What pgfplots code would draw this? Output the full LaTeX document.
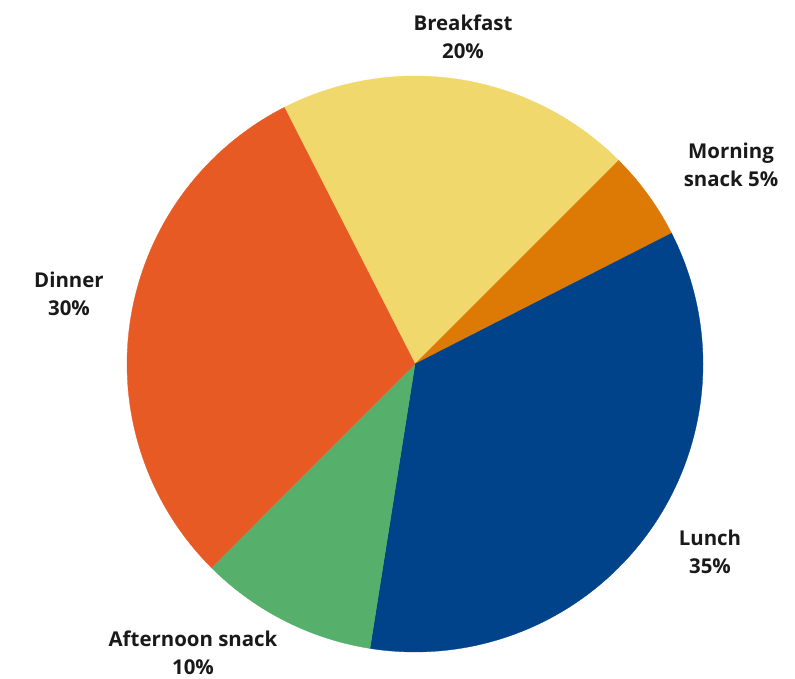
\documentclass[border=0pt]{standalone}
\usepackage{pgfplots}
\pgfplotsset{compat=1.18}
\usepackage{fontspec}
\setmainfont{Open Sans}

\definecolor{cBreakfast}{HTML}{F0D86C}
\definecolor{cMorning}{HTML}{DD7A05}
\definecolor{cLunch}{HTML}{00438A}
\definecolor{cAfternoon}{HTML}{57AF6C}
\definecolor{cDinner}{HTML}{E75A24}

\tikzset{lbl/.style={font=\fontsize{20.5}{28}\selectfont\bfseries, align=center, text=black!90}}

% one wedge: colour, share before it (%), its share (%); starts at 117 deg, clockwise
\newcommand\slice[3]{%
  \addplot[draw=#1, line width=0.3pt, fill=#1, samples=90, variable=\t,
    domain={117-3.6*(#2+#3)}:{117-3.6*(#2)}]
    ({288*cos(\t)},{288*sin(\t)}) -- (axis cs:0,0) -- cycle;}

\begin{document}
\begin{tikzpicture}
\begin{axis}[
  scale only axis,
  width=795bp, height=679bp,
  xmin=-415, xmax=380,
  ymin=-315, ymax=364,
  hide axis,
  clip=false,
]
  \path (axis cs:-415,-315) rectangle (axis cs:380,364);
  \slice{cBreakfast}{0}{20}
  \slice{cMorning}{20}{5}
  \slice{cLunch}{25}{35}
  \slice{cAfternoon}{60}{10}
  \slice{cDinner}{70}{30}

  \node[lbl] at (axis cs:48,327) {Breakfast\\20\%};
  \node[lbl] at (axis cs:316,199) {Morning\\snack 5\%};
  \node[lbl] at (axis cs:-346,70) {Dinner\\30\%};
  \node[lbl] at (axis cs:295,-188) {Lunch\\35\%};
  \node[lbl] at (axis cs:-222,-289) {Afternoon snack\\10\%};
\end{axis}
\end{tikzpicture}
\end{document}
